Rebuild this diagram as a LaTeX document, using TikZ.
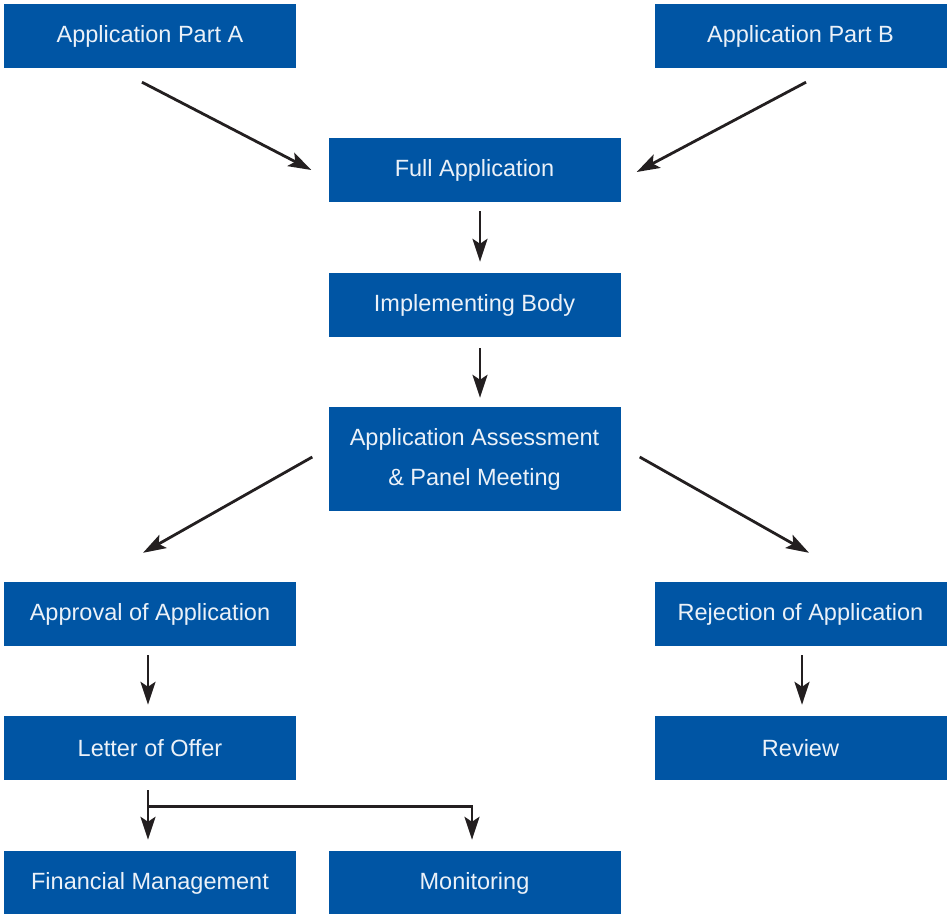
\documentclass[tikz,border=0pt]{standalone}
\usepackage{fontspec}
\setmainfont{Liberation Sans}
\usetikzlibrary{arrows.meta}
\definecolor{boxblue}{HTML}{0055A4}
\definecolor{arrowgray}{HTML}{231F20}

\begin{document}
\begin{tikzpicture}[x=1pt,y=-1pt,
  stagebox/.style={fill=boxblue,text=white!92!boxblue,inner sep=0pt,
    minimum width=292pt,minimum height=64pt,align=center,
    font=\fontsize{23.5}{40}\selectfont},
  arr/.style={draw=arrowgray,line width=2.8pt,
    -{Stealth[length=23pt,width=15pt,inset=5pt]}}]
\useasboundingbox (0,0) rectangle (950,913);
\def\colL{150}
\def\colM{474.5}
\def\colR{800.5}
%%%boxes
\node[stagebox] (partA) at (\colL,36) {Application Part A};
\node[stagebox] (partB) at (\colR,36) {Application Part B};
\node[stagebox] (full) at (\colM,170) {Full Application};
\node[stagebox] (impl) at (\colM,305) {Implementing Body};
\node[stagebox,minimum height=104pt] (assess) at (\colM,459) {Application Assessment\\\& Panel Meeting};
\node[stagebox] (approval) at (\colL,614) {Approval of Application};
\node[stagebox] (rejection) at (\colR,614) {Rejection of Application};
\node[stagebox] (letter) at (\colL,748) {Letter of Offer};
\node[stagebox] (review) at (\colR,748) {Review};
\node[stagebox] (finance) at (\colL,883) {Financial Management};
\node[stagebox] (monitor) at (\colM,883) {Monitoring};

%%%into full application
\draw[arr] ([xshift=-8pt,yshift=-14pt]partA.south) -- ([xshift=-17pt]full.west);
\draw[arr] ([xshift=5.5pt,yshift=-14pt]partB.south) -- ([xshift=16pt,yshift=-2pt]full.east);

%%%down the middle
\draw[arr] ([xshift=5.5pt,yshift=-9pt]full.south) -- ([xshift=5.5pt,yshift=11pt]impl.north);
\draw[arr] ([xshift=5.5pt,yshift=-11pt]impl.south) -- ([xshift=5.5pt,yshift=9pt]assess.north);

%%%outcome
\draw[arr] ([xshift=-16pt,yshift=2pt]assess.west) -- ([xshift=-7pt,yshift=29pt]approval.north);
\draw[arr] ([xshift=19pt,yshift=2pt]assess.east) -- ([xshift=8.5pt,yshift=29pt]rejection.north);
\draw[arr] ([xshift=-2pt,yshift=-9pt]approval.south) -- ([xshift=-2pt,yshift=11pt]letter.north);
\draw[arr] ([xshift=1.5pt,yshift=-9pt]rejection.south) -- ([xshift=1.5pt,yshift=11pt]review.north);

%%%after the offer
\draw[arr] ([xshift=-2pt,yshift=-10pt]letter.south) -- ([xshift=-2pt,yshift=11pt]finance.north);
\draw[arr] ([xshift=-2pt,yshift=-26pt]letter.south) -| ([xshift=-2.5pt,yshift=11pt]monitor.north);
\end{tikzpicture}
\end{document}
